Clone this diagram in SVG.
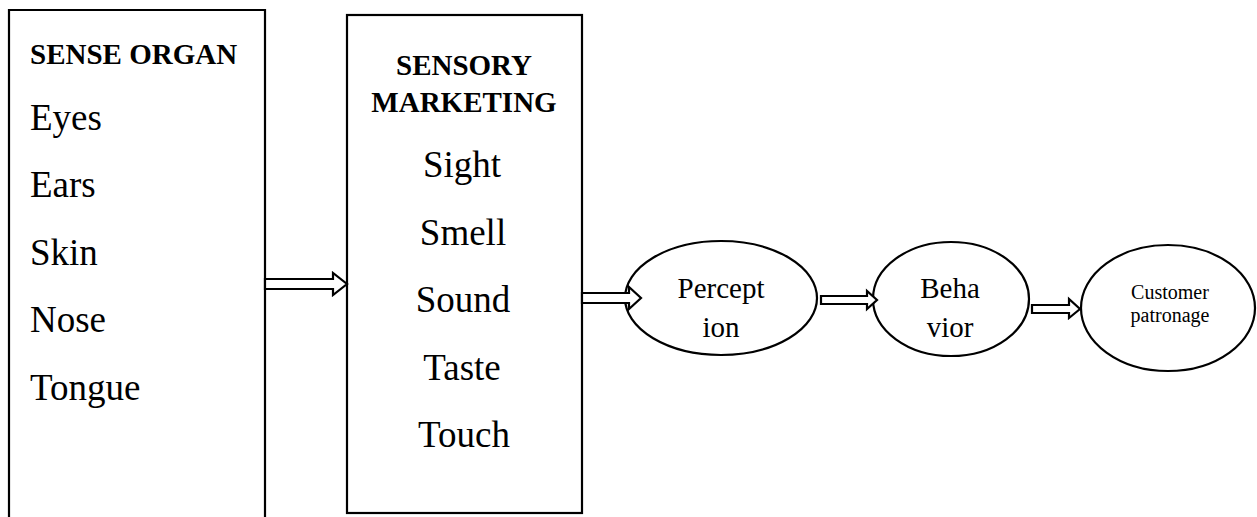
<svg xmlns="http://www.w3.org/2000/svg" width="1257" height="517" viewBox="0 0 1257 517">
  <style>
    .frame { fill: #fff; stroke: #000; stroke-width: 2.2; }
    .arrow { fill: #fff; stroke: #000; stroke-width: 2.2; stroke-linejoin: miter; }
    text { font-family: "Liberation Serif", "Times New Roman", serif; fill: #000; }
    .head { font-size: 29px; font-weight: bold; }
    .item { font-size: 37px; }
    .mid { text-anchor: middle; }
    .oval { font-size: 29px; text-anchor: middle; }
    .small { font-size: 20px; text-anchor: middle; }
  </style>
  <rect width="1257" height="517" fill="#fff"/>

  <!-- Sense organ column (open at the bottom) -->
  <g id="sense-organ">
    <path class="frame" d="M9,530 V10 H265 V530" />
    <text class="head" x="30" y="64">SENSE ORGAN</text>
    <text class="item" x="30" y="130">Eyes</text>
    <text class="item" x="30" y="197">Ears</text>
    <text class="item" x="30" y="265">Skin</text>
    <text class="item" x="30" y="332">Nose</text>
    <text class="item" x="30" y="400">Tongue</text>
  </g>

  <!-- Sensory marketing box -->
  <g id="sensory-marketing">
    <rect class="frame" x="347" y="15" width="235" height="498" />
    <text class="head mid" x="464" y="75">SENSORY</text>
    <text class="head mid" x="464" y="112">MARKETING</text>
    <text class="item mid" x="462" y="177">Sight</text>
    <text class="item mid" x="463" y="245">Smell</text>
    <text class="item mid" x="463" y="312">Sound</text>
    <text class="item mid" x="462" y="380">Taste</text>
    <text class="item mid" x="464" y="447">Touch</text>
  </g>

  <!-- Perception -->
  <g id="perception">
    <ellipse class="frame" cx="721" cy="298" rx="96" ry="57" />
    <text class="oval" x="721" y="298">Percept</text>
    <text class="oval" x="721" y="337">ion</text>
  </g>

  <!-- Behavior -->
  <g id="behavior">
    <ellipse class="frame" cx="951" cy="299" rx="78" ry="57" />
    <text class="oval" x="950" y="298">Beha</text>
    <text class="oval" x="950" y="337">vior</text>
  </g>

  <!-- Customer patronage -->
  <g id="customer-patronage">
    <ellipse class="frame" cx="1168" cy="308" rx="87" ry="63" />
    <text class="small" x="1170" y="299">Customer</text>
    <text class="small" x="1170" y="322">patronage</text>
  </g>

  <!-- Block arrows between stages -->
  <g id="connectors">
    <path class="arrow" d="M265,279 H333 V273 L347,284 L333,295 V289 H265 Z" />
    <path class="arrow" d="M582,293 H629 V287 L641,298 L629,309 V303 H582 Z" />
    <path class="arrow" d="M821,296 H867 V291 L877,300 L867,309 V304 H821 Z" />
    <path class="arrow" d="M1032,305 H1069 V299 L1080,309 L1069,318 V313 H1032 Z" />
  </g>
</svg>
